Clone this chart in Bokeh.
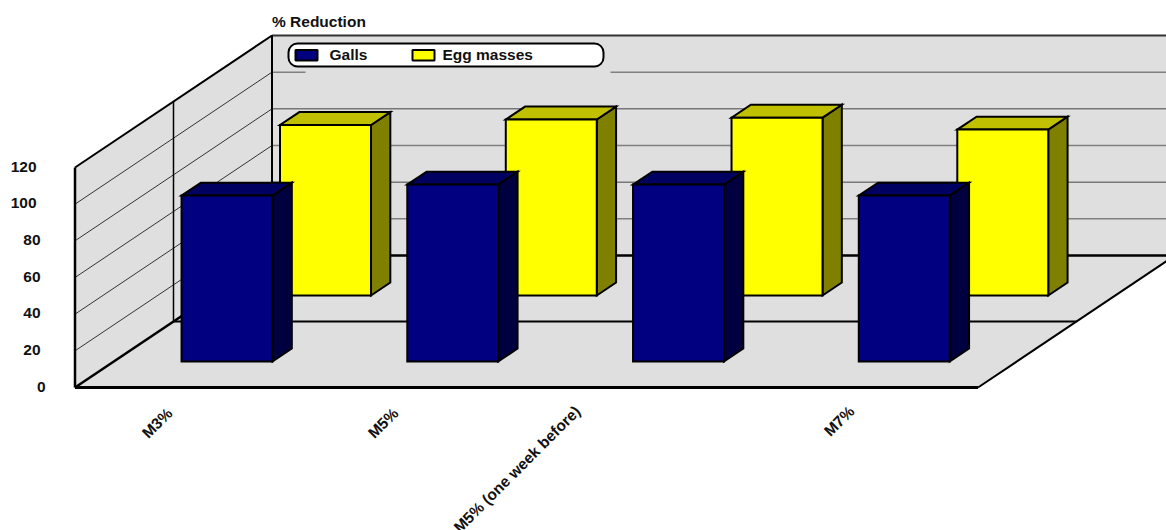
from bokeh.core.properties import value
from bokeh.embed import file_html
from bokeh.models import ColumnDataSource, Range1d
from bokeh.plotting import figure
from bokeh.resources import INLINE

categories = ["M3%", "M5%", "M5% (one week before)", "M7%"]
galls = [90.5, 96.5, 96.5, 90.5]
egg_masses = [93, 96, 97, 90.5]
y_ticks = [0, 20, 40, 60, 80, 100, 120]
series_names = ["Galls", "Egg masses"]

FONT = value("Liberation Sans")
FONT_SIZE = "15.5px"
WALL = "#DFDFDF"

# Oblique projection: x is in pixels, y stays in percent units.
ZERO_PX = 387
PX_PER_UNIT = 220 / 120
LEFT = 74.5
CAT_W = 225.75
DEPTH_DX = 197
DEPTH_DY = 132 / PX_PER_UNIT
VMAX = 120


def px(y_pixel):
    return (ZERO_PX - y_pixel) / PX_PER_UNIT


def proj(cat, depth, val):
    return LEFT + cat * CAT_W + depth * DEPTH_DX, val + depth * DEPTH_DY


p = figure(
    width=1166, height=530, output_backend="svg", toolbar_location=None,
    x_range=Range1d(0, 1166), y_range=Range1d(px(530), px(0)),
    min_border=0, outline_line_color=None, background_fill_color="white",
    x_axis_type=None, y_axis_type=None,
)
p.grid.visible = False


def poly(points, fill, line="black", width=2):
    xs, ys = zip(*points)
    p.patch(list(xs), list(ys), fill_color=fill, line_color=line, line_width=width,
            line_join="miter")


def seg(a, b, color="black", width=2):
    p.line([a[0], b[0]], [a[1], b[1]], line_color=color, line_width=width)


# Floor, side wall and back wall
poly([proj(0, 0, 0), proj(4, 0, 0), proj(4, 1, 0), proj(0, 1, 0)], WALL, None, 0)
poly([proj(0, 0, 0), proj(0, 1, 0), proj(0, 1, VMAX), proj(0, 0, VMAX)], WALL, None, 0)
poly([proj(0, 1, 0), proj(4, 1, 0), proj(4, 1, VMAX), proj(0, 1, VMAX)], WALL, None, 0)

# Gridlines on both walls
for i, t in enumerate(y_ticks[1:-1]):
    seg(proj(0, 0, t), proj(0, 1, t), "#333333", 1)
    dark = i % 2 == 1
    seg(proj(0, 1, t), proj(4, 1, t), "#444444" if dark else "#808080", 1 if dark else 1.5)

# Wall outlines and the series divider
seg(proj(0, 0, 0), proj(0, 0, VMAX), "black", 2.5)
seg(proj(0, 0, VMAX), proj(0, 1, VMAX), "black", 2)
seg(proj(0, 1, VMAX), proj(4, 1, VMAX), "#333333", 2)
seg(proj(0, 1, 0), proj(0, 1, VMAX), "black", 2)
seg(proj(0, .5, 0), proj(0, .5, VMAX), "black", 1.5)
seg(proj(0, .5, 0), proj(4, .5, 0), "black", 2)
seg(proj(0, 1, 0), proj(4, 1, 0), "black", 2.5)
seg(proj(4, 0, 0), proj(4, 1, 0), "black", 2)
seg(proj(0, 0, 0), proj(0, 1, 0), "black", 2.5)
seg(proj(0, 0, 0), proj(4, 0, 0), "black", 3)


def bar(cat, d0, d1, val, front, top, side):
    x0, x1 = cat + .30, cat + .703
    poly([proj(x1, d0, 0), proj(x1, d1, 0), proj(x1, d1, val), proj(x1, d0, val)], side)
    poly([proj(x0, d0, val), proj(x1, d0, val), proj(x1, d1, val), proj(x0, d1, val)], top)
    poly([proj(x0, d0, 0), proj(x1, d0, 0), proj(x1, d0, val), proj(x0, d0, val)], front)


# The back row is drawn first so the front row overlaps it
for i, v in enumerate(egg_masses):
    bar(i, .697, .795, v, "#FFFF00", "#C0C000", "#808000")
for i, v in enumerate(galls):
    bar(i, .197, .295, v, "#000080", "#000060", "#000040")

# Value labels, staggered by their digit count
label_right = {1: 45, 2: 40, 3: 36}
tick_labels = [str(t) for t in y_ticks]
p.text(
    x=[label_right[len(s)] for s in tick_labels], y=y_ticks, text=tick_labels,
    text_font=FONT, text_font_style="bold", text_font_size=FONT_SIZE,
    text_align="right", text_baseline="middle", text_color="#111111", y_offset=-1,
)

# Category labels
label_end_x = [163, 389, 571, 845]
label_end_y = [404, 404, 402, 402]
src = ColumnDataSource(dict(x=label_end_x, y=[px(v) for v in label_end_y], t=categories))
p.text(
    "x", "y", text="t", source=src, angle=45, angle_units="deg",
    text_font=FONT, text_font_style="bold", text_font_size=FONT_SIZE,
    text_align="right", text_baseline="top", text_color="#111111",
)

p.text(
    x=[271.5], y=[px(22)], text=["% Reduction"], text_font=FONT, text_font_style="bold",
    text_font_size=FONT_SIZE, text_align="left", text_baseline="middle",
    text_color="#111111", y_offset=-1,
)

# Legend box and the wall-coloured strip beneath it
p.quad(left=[305], right=[610], top=[px(64)], bottom=[px(75)], fill_color=WALL, line_color=None)
p.quad(left=[288], right=[603], top=[px(43)], bottom=[px(66)], fill_color="white",
       line_color="black", line_width=2, border_radius=9)
p.quad(left=[295], right=[317], top=[px(49.5)], bottom=[px(60)], fill_color="#000080",
       line_color="black", line_width=2)
p.quad(left=[412], right=[434], top=[px(49.5)], bottom=[px(60)], fill_color="#FFFF00",
       line_color="black", line_width=2)
p.text(
    x=[329, 442], y=[px(55), px(55)], text=series_names, text_font=FONT,
    text_font_style="bold", text_font_size=FONT_SIZE, text_align="left",
    text_baseline="middle", text_color="#111111", y_offset=-1,
)

with open("out.html", "w") as f:
    f.write(file_html(p, INLINE))
